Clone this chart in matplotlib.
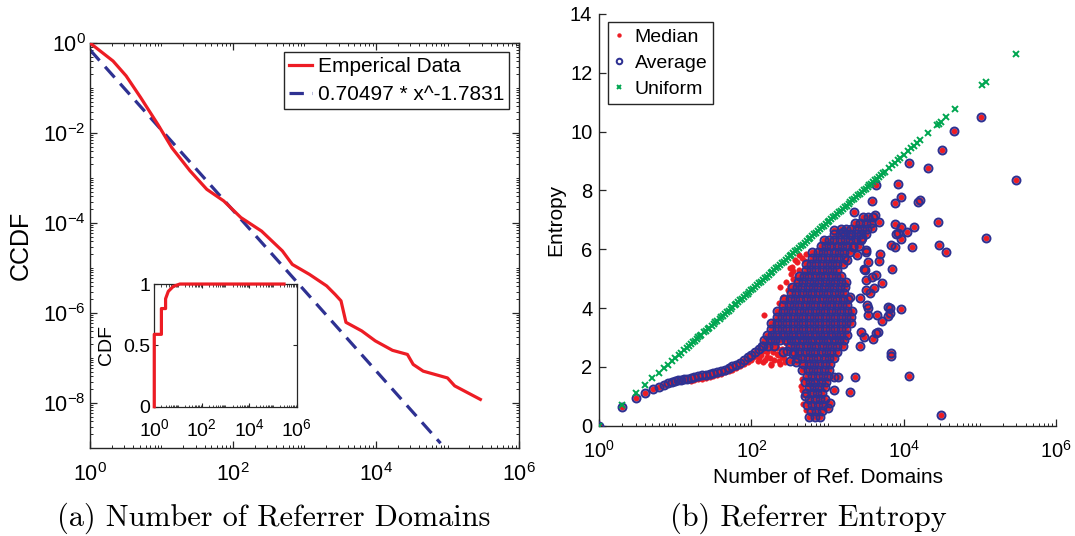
import numpy as np
import matplotlib
matplotlib.use("Agg")
import matplotlib.pyplot as plt
from matplotlib.ticker import LogLocator, NullFormatter, FixedLocator

plt.rcParams['font.family'] = ['Liberation Sans', 'DejaVu Sans']
plt.rcParams['axes.unicode_minus'] = True

RED = '#ED1C24'
NAVY = '#2E3192'
GREEN = '#00A651'
AXC = '#262626'

# ---- (a) CCDF of number of referrer domains ----
ccdf_x = [1, 2.1, 3.2, 5.1, 8.9, 14, 25, 43, 74, 129, 251, 490, 676, 1175, 2040,
          2690, 3240, 3800, 6310, 9770, 17000, 27500, 33100, 45700, 100000, 126000, 288000]
ccdf_y = [1, 0.398, 0.186, 0.0617, 0.0155, 4.68e-3, 1.45e-3, 5.6e-4, 3.1e-4, 1.32e-4,
          6.6e-5, 2.4e-5, 1.2e-5, 7.2e-6, 4.0e-6, 2.57e-6, 1.86e-6, 6.2e-7, 4.0e-7,
          2.4e-7, 1.48e-7, 1.2e-7, 7.2e-8, 5.1e-8, 3.6e-8, 2.4e-8, 1.2e-8]
fit_coef = 0.70497
fit_exp = -1.7831
fit_x = [1, 80000]

cdf_x = [1, 1, 2, 2, 3, 3, 3.9, 6.3, 12, 100, 1000, 10000, 100000, 295000]
cdf_y = [0, 0.59, 0.59, 0.80, 0.80, 0.88, 0.94, 0.98, 1.0, 1.0, 1.0, 1.0, 1.0, 1.0]

# ---- (b) referrer entropy ----
uniform_n = [1, 2, 3, 4, 5, 6, 7, 8, 9, 10, 11, 12, 13, 14, 15, 16, 17, 18, 19, 20,
             22, 25, 28, 32, 35, 40, 45, 50, 56, 63, 71, 79, 89, 100, 112, 126, 141,
             158, 178, 200, 224, 251, 282, 316, 355, 398, 447, 501, 562, 631, 708,
             794, 891, 1000, 1122, 1259, 1413, 1585, 1778, 1995, 2239, 2512, 2818,
             3162, 3548, 3981, 4467, 5012, 5623, 6457, 7079, 7586, 8318, 8913, 10000,
             11482, 12589, 13490, 15136, 16596, 20893, 27542, 28840, 30903, 36308,
             46774, 107152, 120226, 301995,
             21, 24, 27, 30, 33, 38, 42, 47, 53, 60, 67, 75, 84, 94, 106, 119, 133,
             150, 168, 188, 211, 237, 266, 299, 335, 376, 422, 473, 531, 596, 668,
             750, 841, 944, 1059, 1189, 1334, 1496, 1679, 1884, 2113, 2371, 2661,
             2985, 3350, 3758, 4217, 4732, 5309]
uniform_h = [0, 0.69, 1.10, 1.39, 1.61, 1.79, 1.95, 2.08, 2.20, 2.30, 2.40, 2.48, 2.56,
             2.64, 2.71, 2.77, 2.83, 2.89, 2.94, 3.00,
             3.09, 3.22, 3.33, 3.47, 3.56, 3.69, 3.81, 3.91, 4.03, 4.14, 4.26, 4.37,
             4.49, 4.61, 4.72, 4.84, 4.95, 5.06, 5.18, 5.30, 5.41, 5.53, 5.64, 5.76,
             5.87, 5.99, 6.10, 6.22, 6.33, 6.45, 6.56, 6.68, 6.79, 6.91, 7.02, 7.14,
             7.25, 7.37, 7.48, 7.60, 7.71, 7.83, 7.94, 8.06, 8.17, 8.29, 8.40, 8.52,
             8.63, 8.77, 8.86, 8.93, 9.03, 9.10, 9.21, 9.35, 9.44, 9.51, 9.62, 9.72,
             9.95, 10.22, 10.27, 10.34, 10.50, 10.75, 11.58, 11.70, 12.62,
             3.05, 3.17, 3.28, 3.40, 3.51, 3.63, 3.74, 3.86, 3.97, 4.09, 4.20, 4.32,
             4.43, 4.55, 4.66, 4.78, 4.89, 5.01, 5.12, 5.24, 5.35, 5.47, 5.58, 5.70,
             5.81, 5.93, 6.04, 6.16, 6.27, 6.39, 6.50, 6.62, 6.74, 6.85, 6.97, 7.08,
             7.20, 7.31, 7.43, 7.54, 7.66, 7.77, 7.89, 8.00, 8.12, 8.23, 8.35, 8.46,
             8.58]

# log10(number of ref. domains) and entropy
curve_l = [0, 0.301, 0.477, 0.602, 0.699, 0.778, 0.845, 0.903, 0.954, 1.0, 1.04, 1.08,
           1.11, 1.15, 1.2, 1.25, 1.3, 1.35, 1.4, 1.45, 1.5, 1.55, 1.6, 1.65, 1.7,
           1.75, 1.8, 1.85, 1.9, 1.95, 2.0, 2.05, 2.1, 2.14]
curve_h = [0, 0.65, 0.95, 1.11, 1.24, 1.33, 1.40, 1.44, 1.48, 1.51, 1.54, 1.56, 1.58,
           1.60, 1.63, 1.65, 1.68, 1.71, 1.73, 1.76, 1.79, 1.83, 1.87, 1.91, 1.96,
           2.02, 2.08, 2.14, 2.22, 2.32, 2.42, 2.52, 2.62, 2.72]

# dense cluster, one row of points per entropy level
blob_row_h = [0.3, 0.5, 0.7, 0.9, 1.1, 1.3, 1.5, 1.7, 1.9, 2.1, 2.3, 2.5, 2.7, 2.9,
              3.1, 3.3, 3.5, 3.7, 3.9, 4.1, 4.3, 4.5, 4.7, 4.9, 5.1, 5.3, 5.5, 5.7,
              5.9, 6.1, 6.3, 6.5, 6.7, 6.9, 7.1]
blob_row_l = [
    [2.76, 2.83, 2.90],
    [2.78, 2.85, 2.92],
    [2.73, 2.80, 2.87, 2.94],
    [2.76, 2.83, 2.90, 2.97],
    [2.72, 2.79, 2.86, 2.93],
    [2.75, 2.82, 2.89, 2.96],
    [2.70, 2.77, 2.84, 2.91, 2.98],
    [2.73, 2.80, 2.87, 2.94, 3.01],
    [2.67, 2.74, 2.81, 2.88, 2.95, 3.02],
    [2.68, 2.75, 2.82, 2.89, 2.96, 3.03],
    [2.60, 2.67, 2.74, 2.81, 2.88, 2.95, 3.02, 3.09],
    [2.42, 2.56, 2.63, 2.70, 2.77, 2.84, 2.91, 2.98, 3.05, 3.12],
    [2.15, 2.22, 2.29, 2.50, 2.57, 2.64, 2.71, 2.78, 2.85, 2.92, 2.99, 3.06, 3.13, 3.20],
    [2.17, 2.24, 2.31, 2.38, 2.45, 2.52, 2.59, 2.66, 2.73, 2.80, 2.87, 2.94, 3.01, 3.08,
     3.15, 3.22],
    [2.20, 2.27, 2.34, 2.41, 2.48, 2.55, 2.62, 2.69, 2.76, 2.83, 2.90, 2.97, 3.04, 3.11,
     3.18, 3.25],
    [2.26, 2.33, 2.40, 2.47, 2.54, 2.61, 2.68, 2.75, 2.82, 2.89, 2.96, 3.03, 3.10, 3.17,
     3.24],
    [2.26, 2.33, 2.40, 2.47, 2.54, 2.61, 2.68, 2.75, 2.82, 2.89, 2.96, 3.03, 3.10, 3.17,
     3.24, 3.31],
    [2.33, 2.40, 2.47, 2.54, 2.61, 2.68, 2.75, 2.82, 2.89, 2.96, 3.03, 3.10, 3.17, 3.24,
     3.31],
    [2.34, 2.41, 2.48, 2.55, 2.62, 2.69, 2.76, 2.83, 2.90, 2.97, 3.04, 3.11, 3.18, 3.25,
     3.32],
    [2.42, 2.49, 2.56, 2.63, 2.70, 2.77, 2.84, 2.91, 2.98, 3.05, 3.12, 3.19, 3.26],
    [2.43, 2.50, 2.57, 2.64, 2.71, 2.78, 2.85, 2.92, 2.99, 3.06, 3.13, 3.20, 3.27],
    [2.52, 2.59, 2.66, 2.73, 2.80, 2.87, 2.94, 3.01, 3.08, 3.15, 3.22],
    [2.53, 2.60, 2.67, 2.74, 2.81, 2.88, 2.95, 3.02, 3.09, 3.16, 3.23],
    [2.61, 2.68, 2.75, 2.82, 2.89, 2.96, 3.03, 3.10, 3.17, 3.24],
    [2.62, 2.69, 2.76, 2.83, 2.90, 2.97, 3.04, 3.11, 3.18],
    [2.71, 2.78, 2.85, 2.92, 2.99, 3.06, 3.13],
    [2.71, 2.78, 2.85, 2.92, 2.99, 3.06, 3.13, 3.20],
    [2.79, 2.86, 2.93, 3.00, 3.07, 3.14, 3.21],
    [2.80, 2.87, 2.94, 3.01, 3.08, 3.15, 3.22, 3.29],
    [2.91, 2.98, 3.05, 3.12, 3.19, 3.26, 3.33],
    [2.95, 3.02, 3.09, 3.16, 3.23, 3.30, 3.37, 3.44],
    [3.09, 3.16, 3.23, 3.30, 3.37, 3.44, 3.51],
    [3.17, 3.24, 3.31, 3.38, 3.45, 3.52],
    [3.36, 3.43, 3.50, 3.57],
    [3.46, 3.53, 3.60],
]
extra_l = [2.50, 2.55, 2.47, 2.58]
extra_h = [2.20, 2.45, 2.55, 2.15]

sparse_l = [5.01, 4.66, 4.50, 4.07, 4.32, 3.64, 3.93, 3.96, 3.89, 3.58, 4.19, 4.22, 5.47,
            4.45, 5.08, 4.47, 4.55, 4.11, 3.88, 3.97, 3.93, 4.04, 4.14, 3.97, 3.83, 3.89,
            3.62, 3.67, 3.58, 3.45, 3.69, 3.68, 3.50, 3.53, 3.48, 3.84, 3.63, 3.58, 3.72,
            3.61, 3.56, 3.53, 3.82, 3.96, 3.65, 3.71, 3.80, 3.66, 3.48, 3.60, 3.44, 3.42,
            3.83, 3.83, 4.07, 4.49, 3.36, 3.29, 3.09, 3.14, 3.64, 3.82, 3.00, 3.03, 3.09,
            3.35, 3.08, 3.20, 3.31, 3.38, 3.41, 3.90, 3.79, 3.42, 3.51, 3.49, 3.25, 3.33,
            3.51, 3.51, 3.53, 3.52, 3.30]
sparse_h = [10.49, 10.02, 9.38, 8.93, 8.76, 8.19, 8.21, 7.76, 7.57, 7.65, 7.60, 7.68, 8.36,
            6.93, 6.39, 6.14, 5.90, 6.08, 6.85, 6.75, 6.55, 6.58, 6.74, 6.34, 6.13, 6.07,
            7.17, 6.91, 6.72, 6.39, 5.83, 5.61, 5.89, 5.55, 5.32, 5.32, 5.11, 5.04, 4.84,
            4.68, 4.52, 4.00, 4.01, 3.98, 3.76, 3.57, 3.74, 3.19, 3.03, 2.95, 3.18, 2.72,
            2.38, 2.48, 1.70, 0.38, 1.66, 1.16, 1.22, 1.66, 3.16, 3.84, 0.61, 0.78, 1.67,
            7.28, 6.66, 6.60, 6.47, 5.79, 6.12, 6.51, 4.05, 4.34, 4.62, 5.30, 5.64, 6.09,
            5.98, 4.96, 3.77, 4.11, 4.39]

median_only_l = [1.2, 1.3, 1.4, 1.5, 1.6, 1.7, 1.8, 1.9, 2.0,
                 1.25, 1.35, 1.45, 1.55, 1.65, 1.75, 1.85, 1.95, 2.05,
                 2.0, 2.05, 2.1, 2.15, 2.15, 2.2, 2.22, 2.25, 2.28, 2.3, 2.32, 2.35, 2.38,
                 2.4, 2.43, 2.45,
                 2.02, 2.08, 2.12, 2.18, 2.2, 2.24, 2.27, 2.33, 2.36, 2.4, 2.42, 2.44,
                 2.26, 2.34,
                 2.17, 2.3, 2.36, 2.38, 2.41, 2.46, 2.5, 2.53, 2.55, 2.6, 2.63, 2.67, 2.7,
                 2.58, 2.48, 2.72,
                 2.45, 2.52, 2.57, 2.62, 2.5, 2.55, 2.6,
                 2.65, 2.67, 2.69, 2.72, 2.68, 2.66]
median_only_h = [1.53, 1.58, 1.63, 1.69, 1.77, 1.86, 1.97, 2.10, 2.28,
                 1.55, 1.60, 1.66, 1.73, 1.81, 1.91, 2.03, 2.18, 2.38,
                 2.25, 2.45, 2.30, 2.15, 2.55, 2.35, 2.70, 2.10, 2.50, 2.25, 2.75, 2.40, 2.10,
                 2.60, 2.30, 2.80,
                 2.35, 2.20, 2.40, 2.25, 2.50, 2.30, 2.60, 2.45, 2.20, 2.35, 2.50, 2.15,
                 2.05, 2.65,
                 3.77, 3.55, 4.17, 4.73, 4.39, 4.28, 5.37, 5.41, 5.00, 5.55, 5.30, 5.70, 5.60,
                 4.85, 4.60, 5.85,
                 4.90, 5.15, 5.65, 5.80, 4.75, 5.25, 5.05,
                 1.34, 1.20, 1.05, 0.54, 0.75, 1.60]
average_only_l = [2.70]
average_only_h = [1.0]

blob_l, blob_h = [], []
for h, row in zip(blob_row_h, blob_row_l):
    blob_l += row
    blob_h += [h] * len(row)
blob_l += extra_l
blob_h += extra_h

median_n = 10 ** np.array(curve_l + blob_l + sparse_l + median_only_l)
median_h = np.array(curve_h + blob_h + sparse_h + median_only_h)
average_n = 10 ** np.array(curve_l + blob_l + sparse_l + average_only_l)
average_h = np.array(curve_h + blob_h + sparse_h + average_only_h)

fig = plt.figure(figsize=(10.75, 5.36), dpi=100)

# ---------- left panel ----------
ax1 = fig.add_axes([0.0837, 0.1642, 0.3991, 0.7556])
ax1.loglog(ccdf_x, ccdf_y, color=RED, lw=2.3, label='Emperical Data', zorder=3)
fit_y = [fit_coef * x ** fit_exp for x in fit_x]
ax1.loglog(fit_x, fit_y, color=NAVY, lw=2.3, ls=(0, (4.5, 2.6)),
           label='0.70497 * x^-1.7831', zorder=2)
ax1.set_xlim(1, 1e6)
ax1.set_ylim(1e-9, 1)
ax1.xaxis.set_major_locator(FixedLocator([1, 1e2, 1e4, 1e6]))
ax1.yaxis.set_major_locator(FixedLocator([1e-8, 1e-6, 1e-4, 1e-2, 1]))
for a in (ax1.xaxis, ax1.yaxis):
    a.set_minor_locator(LogLocator(base=10, subs=np.arange(1, 10), numticks=30))
    a.set_minor_formatter(NullFormatter())
ax1.tick_params(which='both', direction='in', top=True, right=True, color=AXC)
ax1.tick_params(which='major', length=5, width=0.9, labelsize=15.5)
ax1.tick_params(which='minor', length=2.5, width=0.7)
ax1.tick_params(axis='x', which='major', pad=11)
ax1.tick_params(axis='y', which='major', pad=3)
for s in ax1.spines.values():
    s.set_color(AXC)
    s.set_linewidth(1.0)
ax1.set_ylabel('CCDF', fontsize=18)
ax1.yaxis.set_label_coords(-0.134, 0.5)
leg1 = ax1.legend(loc='upper right', bbox_to_anchor=(0.977, 0.978), borderaxespad=0,
                  fontsize=15, handlelength=1.1, handletextpad=0.25, labelspacing=0.42,
                  borderpad=0.25, fancybox=False, framealpha=1, edgecolor=AXC)
leg1.get_frame().set_linewidth(1.0)

# inset CDF
axi = fig.add_axes([0.1435, 0.2412, 0.1324, 0.2289])
axi.semilogx(cdf_x, cdf_y, color=RED, lw=2.3, clip_on=False, zorder=3)
axi.set_xlim(1, 1e6)
axi.set_ylim(0, 1)
axi.xaxis.set_major_locator(FixedLocator([1, 1e2, 1e4, 1e6]))
axi.xaxis.set_minor_locator(LogLocator(base=10, subs=np.arange(1, 10), numticks=30))
axi.xaxis.set_minor_formatter(NullFormatter())
axi.set_yticks([0, 0.5, 1])
axi.set_yticklabels(['0', '0.5', '1'])
axi.tick_params(which='both', direction='in', top=True, right=True, color=AXC)
axi.tick_params(which='major', length=3, width=0.8, labelsize=14)
axi.tick_params(which='minor', length=1.8, width=0.6)
axi.tick_params(axis='x', which='major', pad=8)
axi.tick_params(axis='y', which='major', pad=3)
for s in axi.spines.values():
    s.set_color(AXC)
    s.set_linewidth(0.9)
axi.set_ylabel('CDF', fontsize=14)
axi.yaxis.set_label_coords(-0.275, 0.5)

# ---------- right panel ----------
ax2 = fig.add_axes([0.5575, 0.2057, 0.4247, 0.7685])
ax2.set_xscale('log')
ax2.plot(median_n, median_h, ls='none', marker='o', ms=4.0, mfc=RED, mec=RED,
         mew=0.3, label='Median', zorder=2)
ax2.plot(average_n, average_h, ls='none', marker='o', ms=5.7, mfc='none', mec=NAVY,
         mew=1.45, label='Average', zorder=3)
ax2.plot(uniform_n, uniform_h, ls='none', marker='x', ms=4.5, mec=GREEN, mew=1.4,
         label='Uniform', zorder=4)
ax2.set_xlim(1, 1e6)
ax2.set_ylim(0, 14)
ax2.set_yticks(np.arange(0, 15, 2))
ax2.xaxis.set_major_locator(FixedLocator([1, 1e2, 1e4, 1e6]))
ax2.xaxis.set_minor_locator(LogLocator(base=10, subs=np.arange(1, 10), numticks=30))
ax2.xaxis.set_minor_formatter(NullFormatter())
ax2.spines['top'].set_visible(False)
ax2.spines['right'].set_visible(False)
for s in ('left', 'bottom'):
    ax2.spines[s].set_color(AXC)
    ax2.spines[s].set_linewidth(1.0)
ax2.tick_params(which='both', direction='in', color=AXC)
ax2.tick_params(which='major', length=5, width=0.9, labelsize=14.5)
ax2.tick_params(which='minor', length=2.5, width=0.7)
ax2.tick_params(axis='x', which='major', pad=10.5)
ax2.tick_params(axis='y', which='major', pad=5)
ax2.set_xlabel('Number of Ref. Domains', fontsize=15)
ax2.xaxis.set_label_coords(0.5, -0.102)
ax2.set_ylabel('Entropy', fontsize=15)
ax2.yaxis.set_label_coords(-0.075, 0.5)
leg2 = ax2.legend(loc='upper left', bbox_to_anchor=(0.018, 0.98), borderaxespad=0,
                  fontsize=14, handlelength=0.6, handletextpad=0.5, labelspacing=0.45,
                  borderpad=0.3, fancybox=False, framealpha=1, edgecolor=AXC,
                  markerscale=0.7)
leg2.get_frame().set_linewidth(1.0)

# captions
fig.text(273.8 / 1075, 1 - 518 / 536, '(a) Number of Referrer Domains', ha='center',
         va='center', family='cmr10', fontsize=21.8)
fig.text(808.8 / 1075, 1 - 518 / 536, '(b) Referrer Entropy', ha='center',
         va='center', family='cmr10', fontsize=21.8)

fig.savefig('out.png', dpi=100)
